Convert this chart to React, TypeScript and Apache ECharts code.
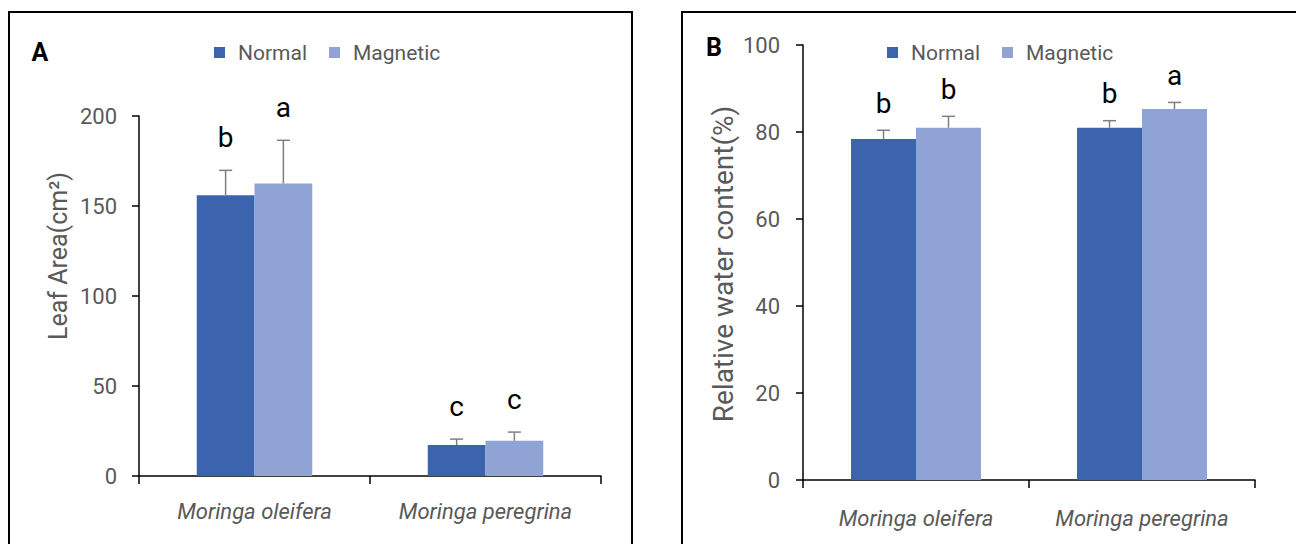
import React, { useEffect, useRef } from "react";
import * as echarts from "echarts";

// Species on the x axis of both panels
const species = ["Moringa oleifera", "Moringa peregrina"];
const seriesNames = ["Normal", "Magnetic"];

// Panel A: leaf area (cm²)
const leafNormal = [156, 17.2];
const leafNormalErr = [13.8, 3.3];
const leafMagnetic = [162.5, 19.6];
const leafMagneticErr = [24, 4.8];
const leafNormalLetters = ["b", "c"];
const leafMagneticLetters = ["a", "c"];

// Panel B: relative water content (%)
const rwcNormal = [78.4, 81.0];
const rwcNormalErr = [2.0, 1.6];
const rwcMagnetic = [81.0, 85.3];
const rwcMagneticErr = [2.6, 1.5];
const rwcNormalLetters = ["b", "b"];
const rwcMagneticLetters = ["b", "a"];

const COLOR_NORMAL = "#3C64AE";
const COLOR_MAGNETIC = "#8FA3D5";
const GREY_TEXT = "#595959";
const FONT = "Roboto, sans-serif";

// Error bar (upper whisker + cap) with a significance letter above it.
function errorSeries(
  gridIndex: number,
  values: number[],
  errs: number[],
  letters: string[],
  offsetFrac: number,
  letterGap: number
) {
  return {
    type: "custom",
    xAxisIndex: gridIndex,
    yAxisIndex: gridIndex,
    z: 5,
    silent: true,
    data: values.map((v, i) => [i, v, errs[i]]),
    encode: { x: 0, y: 1 },
    renderItem: (params: any, api: any) => {
      const idx = api.value(0);
      const val = api.value(1);
      const err = api.value(2);
      const letter = letters[params.dataIndex];
      const band = api.size([1, 0])[0];
      const base = api.coord([idx, val]);
      const top = api.coord([idx, val + err]);
      const x = base[0] + band * offsetFrac;
      const cap = 6.5;
      return {
        type: "group",
        children: [
          {
            type: "line",
            shape: { x1: x, y1: base[1], x2: x, y2: top[1] },
            style: { stroke: "#7F7F7F", lineWidth: 1.5 },
          },
          {
            type: "line",
            shape: { x1: x - cap, y1: top[1], x2: x + cap, y2: top[1] },
            style: { stroke: "#7F7F7F", lineWidth: 1.5 },
          },
          {
            type: "text",
            x: x,
            y: top[1] - letterGap,
            style: {
              text: letter,
              fill: "#000",
              font: `28px ${FONT}`,
              textAlign: "center",
              textVerticalAlign: "bottom",
            },
          },
        ],
      };
    },
  };
}

function categoryAxis(gridIndex: number, margin: number) {
  return {
    type: "category",
    gridIndex,
    data: species,
    axisLine: { lineStyle: { color: "#000", width: 1.5 } },
    axisTick: { show: true, length: 8, lineStyle: { color: "#000", width: 1.5 } },
    axisLabel: {
      interval: 0,
      color: GREY_TEXT,
      fontStyle: "italic",
      fontSize: 22,
      fontFamily: FONT,
      margin,
    },
  };
}

function valueAxis(gridIndex: number, max: number, interval: number, margin: number) {
  return {
    type: "value",
    gridIndex,
    min: 0,
    max,
    interval,
    splitLine: { show: false },
    axisLine: { show: true, lineStyle: { color: "#000", width: 1.5 } },
    axisTick: { show: true, length: 7, lineStyle: { color: "#000", width: 1.5 } },
    axisLabel: { color: GREY_TEXT, fontSize: 22, fontFamily: FONT, margin },
  };
}

function legend(left: number) {
  return {
    left,
    top: 37,
    orient: "horizontal",
    itemWidth: 11,
    itemHeight: 11,
    itemGap: 22,
    icon: "rect",
    data: seriesNames,
    textStyle: {
      color: GREY_TEXT,
      fontSize: 21,
      fontFamily: FONT,
      padding: [0, 0, 0, 8],
    },
  };
}

export default function App() {
  const ref = useRef<HTMLDivElement>(null);

  useEffect(() => {
    if (!ref.current) return;
    const chart = echarts.init(ref.current, undefined, { renderer: "svg" });

    const option: any = {
      animation: false,
      backgroundColor: "#fff",
      legend: [legend(209), legend(882)],
      grid: [
        { left: 139, top: 116, width: 462, height: 360 },
        { left: 803, top: 45, width: 452, height: 435 },
      ],
      xAxis: [categoryAxis(0, 24), categoryAxis(1, 27)],
      yAxis: [valueAxis(0, 200, 50, 22), valueAxis(1, 100, 20, 23)],
      series: [
        {
          name: "Normal",
          type: "bar",
          xAxisIndex: 0,
          yAxisIndex: 0,
          data: leafNormal,
          itemStyle: { color: COLOR_NORMAL },
          barGap: "0%",
          barCategoryGap: "50%",
        },
        {
          name: "Magnetic",
          type: "bar",
          xAxisIndex: 0,
          yAxisIndex: 0,
          data: leafMagnetic,
          itemStyle: { color: COLOR_MAGNETIC },
          barGap: "0%",
          barCategoryGap: "50%",
        },
        {
          name: "Normal",
          type: "bar",
          xAxisIndex: 1,
          yAxisIndex: 1,
          data: rwcNormal,
          itemStyle: { color: COLOR_NORMAL },
          barGap: "0%",
          barCategoryGap: "42.5%",
        },
        {
          name: "Magnetic",
          type: "bar",
          xAxisIndex: 1,
          yAxisIndex: 1,
          data: rwcMagnetic,
          itemStyle: { color: COLOR_MAGNETIC },
          barGap: "0%",
          barCategoryGap: "42.5%",
        },
        errorSeries(0, leafNormal, leafNormalErr, leafNormalLetters, -0.125, 19),
        errorSeries(0, leafMagnetic, leafMagneticErr, leafMagneticLetters, 0.125, 19),
        errorSeries(1, rwcNormal, rwcNormalErr, rwcNormalLetters, -0.14375, 13),
        errorSeries(1, rwcMagnetic, rwcMagneticErr, rwcMagneticLetters, 0.14375, 13),
      ],
      graphic: [
        // panel frames
        {
          type: "rect",
          shape: { x: 9, y: 12, width: 623, height: 600 },
          style: { fill: "none", stroke: "#000", lineWidth: 2 },
          silent: true,
        },
        {
          type: "rect",
          shape: { x: 682, y: 12, width: 700, height: 600 },
          style: { fill: "none", stroke: "#000", lineWidth: 2 },
          silent: true,
        },
        // panel letters
        {
          type: "text",
          x: 40,
          y: 52,
          style: {
            text: "A",
            fill: "#000",
            font: `bold 25px ${FONT}`,
            textAlign: "center",
            textVerticalAlign: "middle",
          },
        },
        {
          type: "text",
          x: 714,
          y: 47,
          style: {
            text: "B",
            fill: "#000",
            font: `bold 25px ${FONT}`,
            textAlign: "center",
            textVerticalAlign: "middle",
          },
        },
        // y-axis titles
        {
          type: "text",
          x: 58,
          y: 256,
          rotation: Math.PI / 2,
          style: {
            text: "Leaf Area(cm²)",
            fill: GREY_TEXT,
            font: `25px ${FONT}`,
            textAlign: "center",
            textVerticalAlign: "middle",
          },
        },
        {
          type: "text",
          x: 723,
          y: 264,
          rotation: Math.PI / 2,
          style: {
            text: "Relative water content(%)",
            fill: GREY_TEXT,
            font: `28px ${FONT}`,
            textAlign: "center",
            textVerticalAlign: "middle",
          },
        },
      ],
    };

    chart.setOption(option);
    return () => chart.dispose();
  }, []);

  return (
    <div
      ref={ref}
      style={{
        position: "fixed",
        left: 0,
        top: 0,
        width: 1296,
        height: 544,
        background: "#fff",
      }}
    />
  );
}
